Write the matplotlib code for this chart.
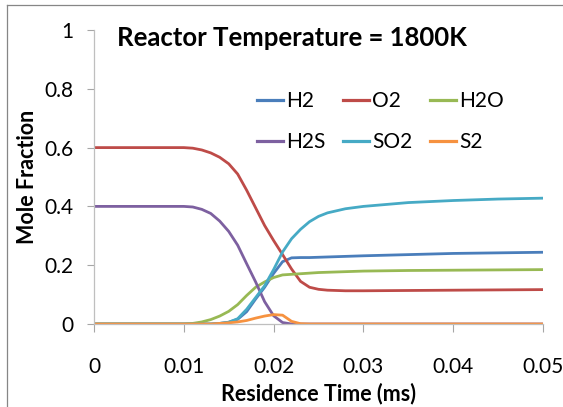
import matplotlib
matplotlib.use('Agg')
import matplotlib.pyplot as plt
from matplotlib.lines import Line2D

# Residence time (ms) and mole fractions
time_ms = [0, 0.005, 0.010, 0.011, 0.012, 0.013, 0.014, 0.015, 0.016, 0.017,
           0.018, 0.019, 0.020, 0.021, 0.022, 0.023, 0.024, 0.025, 0.026,
           0.028, 0.030, 0.035, 0.040, 0.045, 0.050]

h2 = [0, 0, 0, 0, 0, 0, 0.002, 0.006, 0.016, 0.042,
      0.085, 0.125, 0.172, 0.212, 0.225, 0.226, 0.226, 0.227, 0.228,
      0.230, 0.232, 0.236, 0.240, 0.242, 0.244]
o2 = [0.600, 0.600, 0.600, 0.598, 0.592, 0.582, 0.567, 0.545, 0.510, 0.455,
      0.395, 0.335, 0.284, 0.236, 0.187, 0.145, 0.125, 0.118, 0.115,
      0.113, 0.113, 0.114, 0.115, 0.116, 0.117]
h2o = [0, 0, 0, 0.002, 0.007, 0.015, 0.027, 0.043, 0.066, 0.097,
       0.125, 0.143, 0.158, 0.167, 0.169, 0.171, 0.173, 0.175, 0.176,
       0.178, 0.180, 0.182, 0.183, 0.184, 0.185]
h2s = [0.400, 0.400, 0.400, 0.398, 0.390, 0.376, 0.350, 0.315, 0.268, 0.205,
       0.143, 0.076, 0.028, 0.005, 0, 0, 0, 0, 0,
       0, 0, 0, 0, 0, 0]
so2 = [0, 0, 0, 0, 0, 0, 0.002, 0.006, 0.018, 0.050,
       0.090, 0.130, 0.185, 0.245, 0.290, 0.322, 0.348, 0.366, 0.378,
       0.392, 0.400, 0.413, 0.420, 0.425, 0.428]
s2 = [0, 0, 0, 0, 0, 0, 0.002, 0.004, 0.007, 0.012,
      0.020, 0.027, 0.032, 0.030, 0.009, 0.001, 0, 0, 0,
      0, 0, 0, 0, 0, 0]

series = [('H2', h2, '#4A7EBB'), ('O2', o2, '#BE4B48'), ('H2O', h2o, '#98B954'),
          ('H2S', h2s, '#7D60A0'), ('SO2', so2, '#46AAC5'), ('S2', s2, '#F69240')]

xticks = [0, 0.01, 0.02, 0.03, 0.04, 0.05]
xtick_labels = ['0', '0.01', '0.02', '0.03', '0.04', '0.05']
yticks = [0, 0.2, 0.4, 0.6, 0.8, 1]
ytick_labels = ['0', '0.2', '0.4', '0.6', '0.8', '1']

plt.rcParams['font.family'] = ['Lato', 'DejaVu Sans']

W, H = 563, 407
fig = plt.figure(figsize=(W / 100, H / 100), dpi=100)
ax = fig.add_axes([94 / W, 1 - 324 / H, 449 / W, 294 / H])

lines = {}
for name, vals, col in series:
    lines[name], = ax.plot(time_ms, vals, color=col, lw=2.0, label=name,
                           solid_capstyle='round')

ax.set_xlim(0, 0.05)
ax.set_ylim(0, 1)
ax.set_xticks(xticks)
ax.set_xticklabels(xtick_labels)
ax.set_yticks(yticks)
ax.set_yticklabels(ytick_labels)
ax.tick_params(axis='x', length=6, width=0.8, color='#A6A6A6', pad=18, labelsize=15)
ax.tick_params(axis='y', length=5, width=0.8, color='#A6A6A6', pad=10, labelsize=15)

for s in ['top', 'right']:
    ax.spines[s].set_visible(False)
for s in ['left', 'bottom']:
    ax.spines[s].set_color('#BFBFBF')
    ax.spines[s].set_linewidth(0.9)

ax.set_xlabel('Residence Time (ms)', fontsize=15.5, fontweight='bold', labelpad=4)
ax.set_ylabel('Mole Fraction', fontsize=15.5, fontweight='bold', labelpad=4)

fig.text(117 / W, 1 - 37.5 / H, 'Reactor Temperature = 1800K', fontsize=18.5,
         fontweight='bold', ha='left', va='center')

# legend is filled column by column, so order it to read row-wise like the original
order = ['H2', 'H2S', 'O2', 'SO2', 'H2O', 'S2']
handles = [Line2D([], [], color=lines[n].get_color(), lw=2.3) for n in order]
ax.legend(handles, order, ncol=3, frameon=False,
          loc='upper left', bbox_to_anchor=(257 / W, 1 - 91 / H),
          bbox_transform=fig.transFigure, borderpad=0, borderaxespad=0,
          fontsize=15, handlelength=1.25, handletextpad=0.14,
          columnspacing=0.85, labelspacing=1.0)

# outer chart frame (left and top edges visible)
fig.add_artist(Line2D([7 / W, 7 / W], [0, 1 - 5 / H], color='#868686', lw=0.9))
fig.add_artist(Line2D([7 / W, 1], [1 - 5 / H, 1 - 5 / H], color='#868686', lw=0.9))

fig.savefig('out.png', dpi=100)
